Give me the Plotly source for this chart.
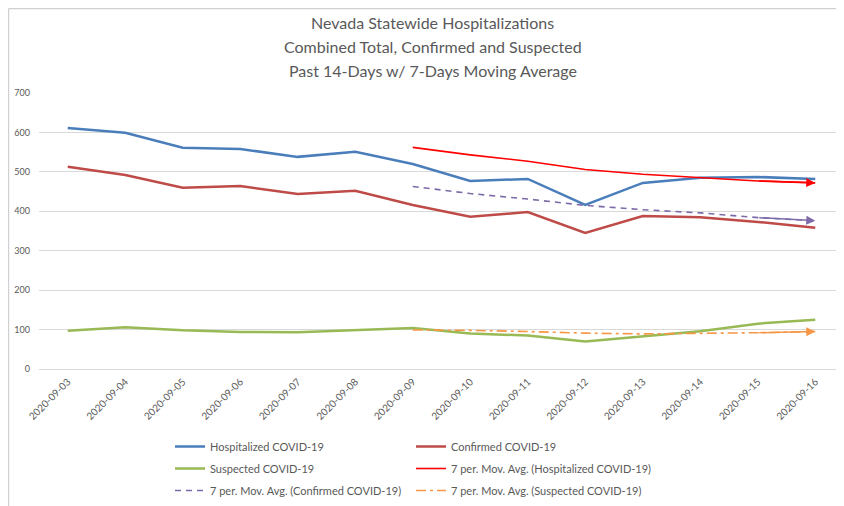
import plotly.graph_objects as go

dates = ["2020-09-03", "2020-09-04", "2020-09-05", "2020-09-06", "2020-09-07",
         "2020-09-08", "2020-09-09", "2020-09-10", "2020-09-11", "2020-09-12",
         "2020-09-13", "2020-09-14", "2020-09-15", "2020-09-16"]

hospitalized = [611, 599, 561, 558, 538, 551, 520, 477, 482, 416, 472, 485, 487, 482]
confirmed = [513, 492, 460, 464, 444, 452, 416, 386, 398, 345, 388, 385, 373, 358]
suspected = [97, 106, 98, 94, 93, 99, 104, 90, 85, 70, 83, 96, 115, 125]

ma_dates = dates[6:]
ma_hospitalized = [562, 543, 527, 506, 494, 486, 477, 472]
ma_confirmed = [463, 445, 431, 415, 404, 396, 384, 376]
ma_suspected = [99, 98, 95, 91, 89, 90, 92, 95]

title_lines = ["Nevada Statewide Hospitalizations",
               "Combined Total, Confirmed and Suspected",
               "Past 14-Days w/ 7-Days Moving Average"]

GREY = "#595959"
FONT = "Lato"
W, H = 836, 498

fig = go.Figure()

def add(name, x, y, color, width, dash, legend, group):
    fig.add_trace(go.Scatter(
        x=x, y=y, name=name, mode="lines",
        line=dict(color=color, width=width, dash=dash),
        legend=legend, legendgroup=group, hoverinfo="skip"))

add("Hospitalized COVID-19", dates, hospitalized, "#4A7EBB", 2.5, "solid", "legend", "a")
add("Confirmed COVID-19", dates, confirmed, "#BE4B48", 2.5, "solid", "legend2", "b")
add("Suspected COVID-19", dates, suspected, "#98B954", 2.5, "solid", "legend", "c")
add("7 per. Mov. Avg. (Hospitalized COVID-19)", ma_dates, ma_hospitalized, "#FF0000", 1.6, "solid", "legend2", "d")
add("7 per. Mov. Avg. (Confirmed COVID-19)", ma_dates, ma_confirmed, "#7D6AA8", 1.6, "6px,5px", "legend", "e")
add("7 per. Mov. Avg. (Suspected COVID-19)", ma_dates, ma_suspected, "#F79646", 1.6, "10px,4px,3px,4px", "legend2", "f")

# arrowheads at the end of moving-average trendlines
for ys, color in [(ma_hospitalized, "#FF0000"), (ma_confirmed, "#7D6AA8"), (ma_suspected, "#F79646")]:
    fig.add_annotation(x=ma_dates[-1], y=ys[-1], ax=ma_dates[-2], ay=ys[-2],
                       xref="x", yref="y", axref="x", ayref="y", text="",
                       showarrow=True, arrowhead=2, arrowsize=1.2, arrowwidth=1.5,
                       arrowcolor=color, standoff=0, startstandoff=0)

title_y = [1.257, 1.167, 1.083]
for txt, yy in zip(title_lines, title_y):
    fig.add_annotation(text=txt, x=0.4894, y=yy, xref="paper", yref="paper",
                       showarrow=False, xanchor="center", yanchor="middle",
                       font=dict(family=FONT, size=16, color=GREY))

# chart border (only top and left edges are visible in the reference)
bx0 = -30.4 / 805
by1 = 1 + 84.4 / 276
fig.add_shape(type="line", xref="paper", yref="paper", x0=bx0, x1=1.05, y0=by1, y1=by1,
              line=dict(color="#D0D0D0", width=1.2), layer="below")
fig.add_shape(type="line", xref="paper", yref="paper", x0=bx0, x1=bx0, y0=-0.6, y1=by1,
              line=dict(color="#D0D0D0", width=1.2), layer="below")

fig.update_layout(
    width=W, height=H,
    margin=dict(l=31, r=0, t=85, b=137, autoexpand=False),
    paper_bgcolor="white", plot_bgcolor="white",
    font=dict(family=FONT, color=GREY),
    showlegend=True,
    legend=dict(xref="container", yref="container", x=162 / W, y=1 - 424 / H,
                xanchor="left", yanchor="top", orientation="v",
                traceorder="grouped", tracegroupgap=3,
                font=dict(family=FONT, size=11, color=GREY), bgcolor="rgba(0,0,0,0)"),
    legend2=dict(xref="container", yref="container", x=403 / W, y=1 - 424 / H,
                 xanchor="left", yanchor="top", orientation="v",
                 traceorder="grouped", tracegroupgap=3,
                 font=dict(family=FONT, size=11, color=GREY), bgcolor="rgba(0,0,0,0)"),
    xaxis=dict(type="category", categoryorder="array", categoryarray=dates,
               range=[-0.5, 13.5], showgrid=False, showline=False, zeroline=False,
               tickangle=-45, tickfont=dict(family=FONT, size=10, color=GREY),
               ticks="", ticklabelstandoff=4, fixedrange=True, automargin=False),
    yaxis=dict(range=[0, 700], dtick=100, showgrid=True, gridcolor="#D9D9D9",
               gridwidth=1, zeroline=True, zerolinecolor="#D9D9D9", zerolinewidth=1,
               showline=False, ticks="", ticklabelstandoff=8, automargin=False,
               tickfont=dict(family=FONT, size=9, color=GREY), fixedrange=True),
)

fig.write_html("out.html")
